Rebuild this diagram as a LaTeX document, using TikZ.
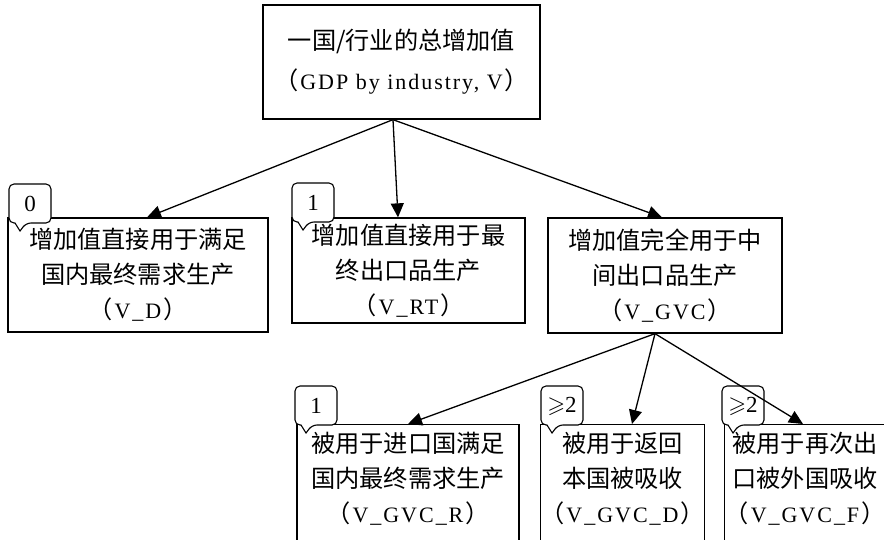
\documentclass[tikz,border=0pt]{standalone}
\usepackage{fontspec}
\usepackage{amssymb}
\setmainfont{Liberation Serif}[LetterSpace=9]
\newfontfamily\cjk[Scale=1.1]{Noto Sans CJK SC}
\newcommand\zh[1]{{\cjk #1}}
% full-width brackets round a Latin label
\newcommand\lbr{\zh{（}\kern2pt}
\newcommand\rbr{\kern2pt\zh{）}}
\usetikzlibrary{arrows.meta}

% speech-bubble tag: name, left, top, label
\newcommand\tagmark[4]{%
  \filldraw[tagline]
    (#2+6,#3+39) [rounded corners=5pt] -- (#2,#3+39) -- (#2,#3) -- (#2+42,#3)
    -- (#2+42,#3+39) -- (#2+17,#3+39) [sharp corners] -- (#2+11,#3+47) -- cycle;
  \node[tagtxt] (#1) at (#2+21,#3+20) {#4};
}

\begin{document}
\begin{tikzpicture}[x=1pt,y=-1pt,
  box/.style={draw, line width=1.3pt, align=center, inner sep=0pt,
              font=\fontsize{22}{35}\selectfont},
  lowbox/.style={box, anchor=north, inner ysep=8pt, text depth=40pt},
  flow/.style={line width=1.3pt, -{Triangle[length=14pt,width=13pt]}},
  tagline/.style={fill=white, draw=black, line width=1.1pt},
  tagtxt/.style={inner sep=0pt, font=\fontsize{23}{23}\selectfont},
]
\useasboundingbox (0,0) rectangle (884,539);

% total value added
\node[box, minimum width=277pt, minimum height=114pt,
      font=\fontsize{22}{40}\selectfont] (gdp) at (401.5,62)
  {\zh{一国/行业的总增加值}\\\lbr GDP by industry, V\rbr};

% first split
\node[box, minimum width=260pt, minimum height=114pt] (vd) at (138,275)
  {\zh{增加值直接用于满足}\\\zh{国内最终需求生产}\\\lbr V\_D\rbr};
\node[box, minimum width=233pt, minimum height=105pt] (vrt) at (408.5,270.5)
  {\zh{增加值直接用于最}\\\zh{终出口品生产}\\\lbr V\_RT\rbr};
\node[box, minimum width=234pt, minimum height=115pt] (vgvc) at (665,275.5)
  {\zh{增加值完全用于中}\\\zh{间出口品生产}\\\lbr V\_GVC\rbr};

% split of the GVC part
\node[lowbox, minimum width=222pt] (vgr) at (408,424)
  {\zh{被用于进口国满足}\\\zh{国内最终需求生产}\\\lbr V\_GVC\_R\rbr};
\node[lowbox, minimum width=161pt] (vgd) at (622.5,424)
  {\zh{被用于返回}\\\zh{本国被吸收}\\\lbr V\_GVC\_D\rbr};
\node[lowbox, minimum width=160pt] (vgf) at (805,424)
  {\zh{被用于再次出}\\\zh{口被外国吸收}\\\lbr V\_GVC\_F\rbr};

% border-crossing counts
\tagmark{t0}{9}{184}{0}
\tagmark{t1}{292}{183}{1}
\tagmark{t2}{295}{386}{1}
\tagmark{t3}{541}{386}{$\geqslant$2}
\tagmark{t4}{722}{386}{$\geqslant$2}

% connectors
\coordinate (gdpfork) at ([xshift=-8.5pt]gdp.south);
\coordinate (gvcfork) at ([xshift=-10pt]vgvc.south);
\draw[flow] (gdpfork) -- ([xshift=9pt]vd.north);
\draw[flow] (gdpfork) -- ([xshift=-10.5pt]vrt.north);
\draw[flow] (gdpfork) -- ([xshift=-3pt]vgvc.north);
\draw[flow] (gvcfork) -- (vgr.north);
\draw[flow] (gvcfork) -- ([xshift=9.5pt]vgd.north);
\draw[flow] (gvcfork) -- ([xshift=-2pt]vgf.north);
\end{tikzpicture}
\end{document}
